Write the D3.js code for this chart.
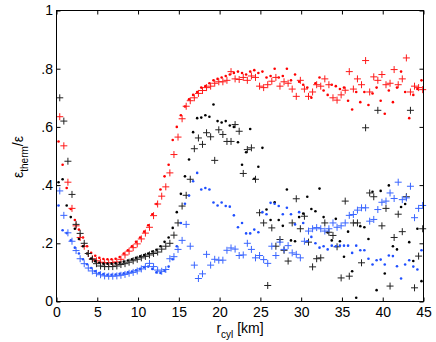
<!DOCTYPE html>
<html>
<head>
<meta charset="utf-8">
<script src="https://d3js.org/d3.v7.min.js"></script>
<style>
  body { margin: 0; background: #fff; }
  text { font-family: "Liberation Sans", Arial, sans-serif; }
</style>
</head>
<body>
<div id="chart"></div>
<script>
// radius grid (km) for the dot series and for the plus series
const rDot = [0.25,0.75,1.25,1.75,2.25,2.75,3.25,3.75,4.25,4.75,5.25,5.75,6.25,6.75,7.25,7.75,8.25,8.75,9.25,9.75,
  10.25,10.75,11.25,11.75,12.25,12.75,13.25,13.75,14.25,14.75,15.25,15.75,16.25,16.75,17.25,17.75,18.25,18.75,19.25,19.75,
  20.25,20.75,21.25,21.75,22.25,22.75,23.25,23.75,24.25,24.75,25.25,25.75,26.25,26.75,27.25,27.75,28.25,28.75,29.25,29.75,
  30.25,30.75,31.25,31.75,32.25,32.75,33.25,33.75,34.25,34.75,35.25,35.75,36.25,36.75,37.25,37.75,38.25,38.75,39.25,39.75,
  40.25,40.75,41.25,41.75,42.25,42.75,43.25,43.75,44.25,44.75];
const rPlus = [0.4,0.9,1.4,1.9,2.4,2.9,3.4,3.9,4.4,4.9,5.4,5.9,6.4,6.9,7.4,7.9,8.4,8.9,9.4,9.9,
  10.4,10.9,11.4,11.9,12.4,12.9,13.4,13.9,14.4,14.9,15.4,15.9,16.4,16.9,17.4,17.9,18.4,18.9,19.4,19.9,
  20.4,20.9,21.4,21.9,22.4,22.9,23.4,23.9,24.4,24.9,25.4,25.9,26.4,26.9,27.4,27.9,28.4,28.9,29.4,29.9,
  30.4,30.9,31.4,31.9,32.4,32.9,33.4,33.9,34.4,34.9,35.4,35.9,36.4,36.9,37.4,37.9,38.4,38.9,39.4,39.9,
  40.4,40.9,41.4,41.9,42.4,42.9,43.4,43.9,44.4,44.9];

const redDot = [0.55,0.47,0.39,0.318,0.28,0.247,0.22,0.19,0.167,0.157,
  0.150,0.146,0.145,0.145,0.147,0.153,0.165,0.176,0.19,0.205,
  0.22,0.24,0.262,0.30,0.335,0.385,0.43,0.47,0.555,0.60,
  0.64,0.67,0.695,0.71,0.72,0.735,0.74,0.75,0.76,0.765,
  0.77,0.775,0.78,0.785,0.79,0.785,0.78,0.79,0.795,0.785,
  0.79,0.77,0.775,0.80,0.77,0.775,0.80,0.76,0.78,0.755,
  0.745,0.735,0.70,0.75,0.77,0.725,0.71,0.745,0.74,0.73,
  0.735,0.69,0.66,0.72,0.685,0.72,0.675,0.715,0.735,0.69,
  0.645,0.725,0.685,0.735,0.79,0.72,0.63,0.71,0.73,0.76];
const redPlus = [0.635,0.535,0.41,0.32,0.26,0.22,0.19,0.165,0.147,0.14,
  0.135,0.133,0.133,0.134,0.136,0.145,0.16,0.173,0.185,0.198,
  0.215,0.235,0.255,0.295,0.335,0.362,0.394,0.442,0.505,0.565,
  0.628,0.671,0.69,0.70,0.715,0.725,0.735,0.74,0.75,0.755,
  0.755,0.76,0.79,0.765,0.763,0.77,0.76,0.775,0.77,0.74,
  0.735,0.745,0.757,0.77,0.74,0.755,0.75,0.73,0.705,0.76,
  0.73,0.705,0.72,0.745,0.74,0.765,0.745,0.70,0.692,0.71,
  0.726,0.79,0.73,0.765,0.745,0.828,0.72,0.772,0.76,0.78,
  0.745,0.75,0.797,0.745,0.765,0.837,0.72,0.74,0.735,0.728];

const blackDot = [0.41,0.42,0.33,0.29,0.25,0.215,0.19,0.165,0.148,0.138,
  0.133,0.13,0.13,0.13,0.131,0.133,0.137,0.141,0.145,0.15,
  0.155,0.16,0.165,0.172,0.178,0.19,0.205,0.22,0.253,0.307,
  0.37,0.43,0.488,0.582,0.63,0.632,0.64,0.635,0.677,0.62,
  0.615,0.62,0.605,0.60,0.547,0.47,0.513,0.593,0.422,0.463,
  0.528,0.316,0.28,0.341,0.28,0.26,0.385,0.21,0.207,0.29,
  0.302,0.36,0.318,0.31,0.388,0.29,0.237,0.21,0.284,0.207,
  0.154,0.24,0.104,0.013,0.259,0.255,0.215,0.377,0.039,0.38,
  0.096,0.399,0.19,0.179,0.325,0.335,0.204,0.139,0.25,0.07];
const blackPlus = [0.70,0.62,0.482,0.368,0.265,0.234,0.20,0.165,0.145,0.13,
  0.122,0.12,0.12,0.12,0.122,0.127,0.13,0.135,0.14,0.145,
  0.15,0.155,0.16,0.165,0.17,0.18,0.19,0.2,0.228,0.27,
  0.328,0.365,0.42,0.525,0.562,0.54,0.58,0.566,0.485,0.59,
  0.574,0.55,0.55,0.608,0.585,0.44,0.522,0.528,0.42,0.305,
  0.27,0.055,0.253,0.19,0.213,0.176,0.139,0.27,0.353,0.25,
  0.293,0.204,0.119,0.147,0.15,0.27,0.238,0.227,0.188,0.081,
  0.345,0.087,0.27,0.27,0.133,0.597,0.373,0.36,0.657,0.26,
  0.32,0.053,0.22,0.30,0.24,0.36,0.657,0.047,0.156,0.25];

const blueDot = [0.33,0.245,0.235,0.21,0.185,0.165,0.145,0.128,0.115,0.104,
  0.098,0.094,0.092,0.092,0.093,0.095,0.097,0.10,0.103,0.107,
  0.112,0.118,0.12,0.112,0.10,0.098,0.105,0.12,0.145,0.19,
  0.27,0.336,0.364,0.413,0.442,0.385,0.39,0.385,0.34,0.33,
  0.34,0.328,0.326,0.296,0.255,0.27,0.234,0.234,0.247,0.238,
  0.307,0.30,0.339,0.336,0.328,0.30,0.322,0.30,0.265,0.307,
  0.27,0.207,0.222,0.2,0.185,0.19,0.179,0.192,0.19,0.192,
  0.192,0.192,0.167,0.192,0.176,0.176,0.147,0.127,0.142,0.144,
  0.127,0.158,0.156,0.121,0.079,0.127,0.142,0.12,0.11,0.176];
const bluePlus = [0.38,0.296,0.236,0.207,0.175,0.147,0.13,0.115,0.105,0.097,
  0.092,0.088,0.087,0.087,0.088,0.09,0.093,0.097,0.10,0.105,
  0.112,0.12,0.131,0.12,0.108,0.104,0.11,0.147,0.154,0.179,
  0.21,0.265,0.19,0.125,0.079,0.095,0.162,0.125,0.145,0.142,
  0.142,0.176,0.184,0.18,0.158,0.16,0.20,0.179,0.15,0.158,
  0.144,0.131,0.19,0.158,0.204,0.179,0.192,0.167,0.162,0.15,
  0.207,0.242,0.25,0.254,0.25,0.242,0.25,0.27,0.255,0.26,
  0.27,0.296,0.299,0.314,0.322,0.322,0.276,0.282,0.316,0.341,
  0.345,0.373,0.354,0.41,0.35,0.356,0.396,0.288,0.32,0.33];

const xTicks = [0,5,10,15,20,25,30,35,40,45];
const yTicks = [0,0.2,0.4,0.6,0.8,1];
const yTickLabels = ["0",".2",".4",".6",".8","1"];

const W = 436, H = 342;

const svg = d3.select("#chart").append("svg")
    .attr("width", W)
    .attr("height", H);

const x = d3.scaleLinear().domain([0, 45]).range([56.5, 423.5]);
const y = d3.scaleLinear().domain([0, 1]).range([301.5, 10.5]);

// markers
function dots(xs, ys, color) {
  svg.append("g").selectAll("circle")
    .data(ys)
    .enter().append("circle")
      .attr("cx", (d, i) => x(xs[i]))
      .attr("cy", d => y(d))
      .attr("r", 1.3)
      .attr("fill", color);
}
function pluses(xs, ys, color) {
  svg.append("g").selectAll("path")
    .data(ys)
    .enter().append("path")
      .attr("transform", (d, i) => "translate(" + x(xs[i]) + "," + y(d) + ")")
      .attr("d", "M-3.5,0H3.5M0,-3.5V3.5")
      .attr("stroke", color)
      .attr("stroke-width", 1)
      .attr("fill", "none");
}

dots(rDot, redDot, "#ff0000");
pluses(rPlus, redPlus, "#ff1a1a");
dots(rDot, blackDot, "#000000");
pluses(rPlus, blackPlus, "#222222");
dots(rDot, blueDot, "#1f4fff");
pluses(rPlus, bluePlus, "#3a66ff");

// axes box, MATLAB style ticks pointing inward
svg.append("rect")
    .attr("x", x(0)).attr("y", y(1))
    .attr("width", x(45) - x(0)).attr("height", y(0) - y(1))
    .attr("fill", "none").attr("stroke", "#000");

const axB = svg.append("g").attr("transform", "translate(0," + y(0) + ")")
    .call(d3.axisBottom(x).tickValues(xTicks).tickSizeInner(-4).tickSizeOuter(0).tickPadding(6));
const axT = svg.append("g").attr("transform", "translate(0," + y(1) + ")")
    .call(d3.axisTop(x).tickValues(xTicks).tickSizeInner(-4).tickSizeOuter(0).tickFormat(""));
const axL = svg.append("g").attr("transform", "translate(" + x(0) + ",0)")
    .call(d3.axisLeft(y).tickValues(yTicks).tickSizeInner(-4).tickSizeOuter(0).tickPadding(3.5)
      .tickFormat((d, i) => yTickLabels[i]));
const axR = svg.append("g").attr("transform", "translate(" + x(45) + ",0)")
    .call(d3.axisRight(y).tickValues(yTicks).tickSizeInner(-4).tickSizeOuter(0).tickFormat(""));

[axB, axT, axL, axR].forEach(g => {
  g.select(".domain").remove();
  g.selectAll("line").attr("stroke", "#000");
  g.selectAll("text").attr("fill", "#000")
    .style("font-family", "'Liberation Sans', Arial, sans-serif")
    .style("font-size", "14px");
});

// axis labels
const xl = svg.append("text")
    .attr("x", 240).attr("y", 333)
    .attr("text-anchor", "middle")
    .style("font-size", "14px");
xl.append("tspan").text("r");
xl.append("tspan").attr("dy", 5).style("font-size", "10px").text("cyl");
xl.append("tspan").attr("dy", -5).text(" [km]");

const yl = svg.append("text")
    .attr("transform", "translate(23,157) rotate(-90)")
    .attr("text-anchor", "middle")
    .style("font-size", "14px");
yl.append("tspan").text("ε");
yl.append("tspan").attr("dy", 5).style("font-size", "10px").text("therm");
yl.append("tspan").attr("dy", -5).text("/ε");
</script>
</body>
</html>
